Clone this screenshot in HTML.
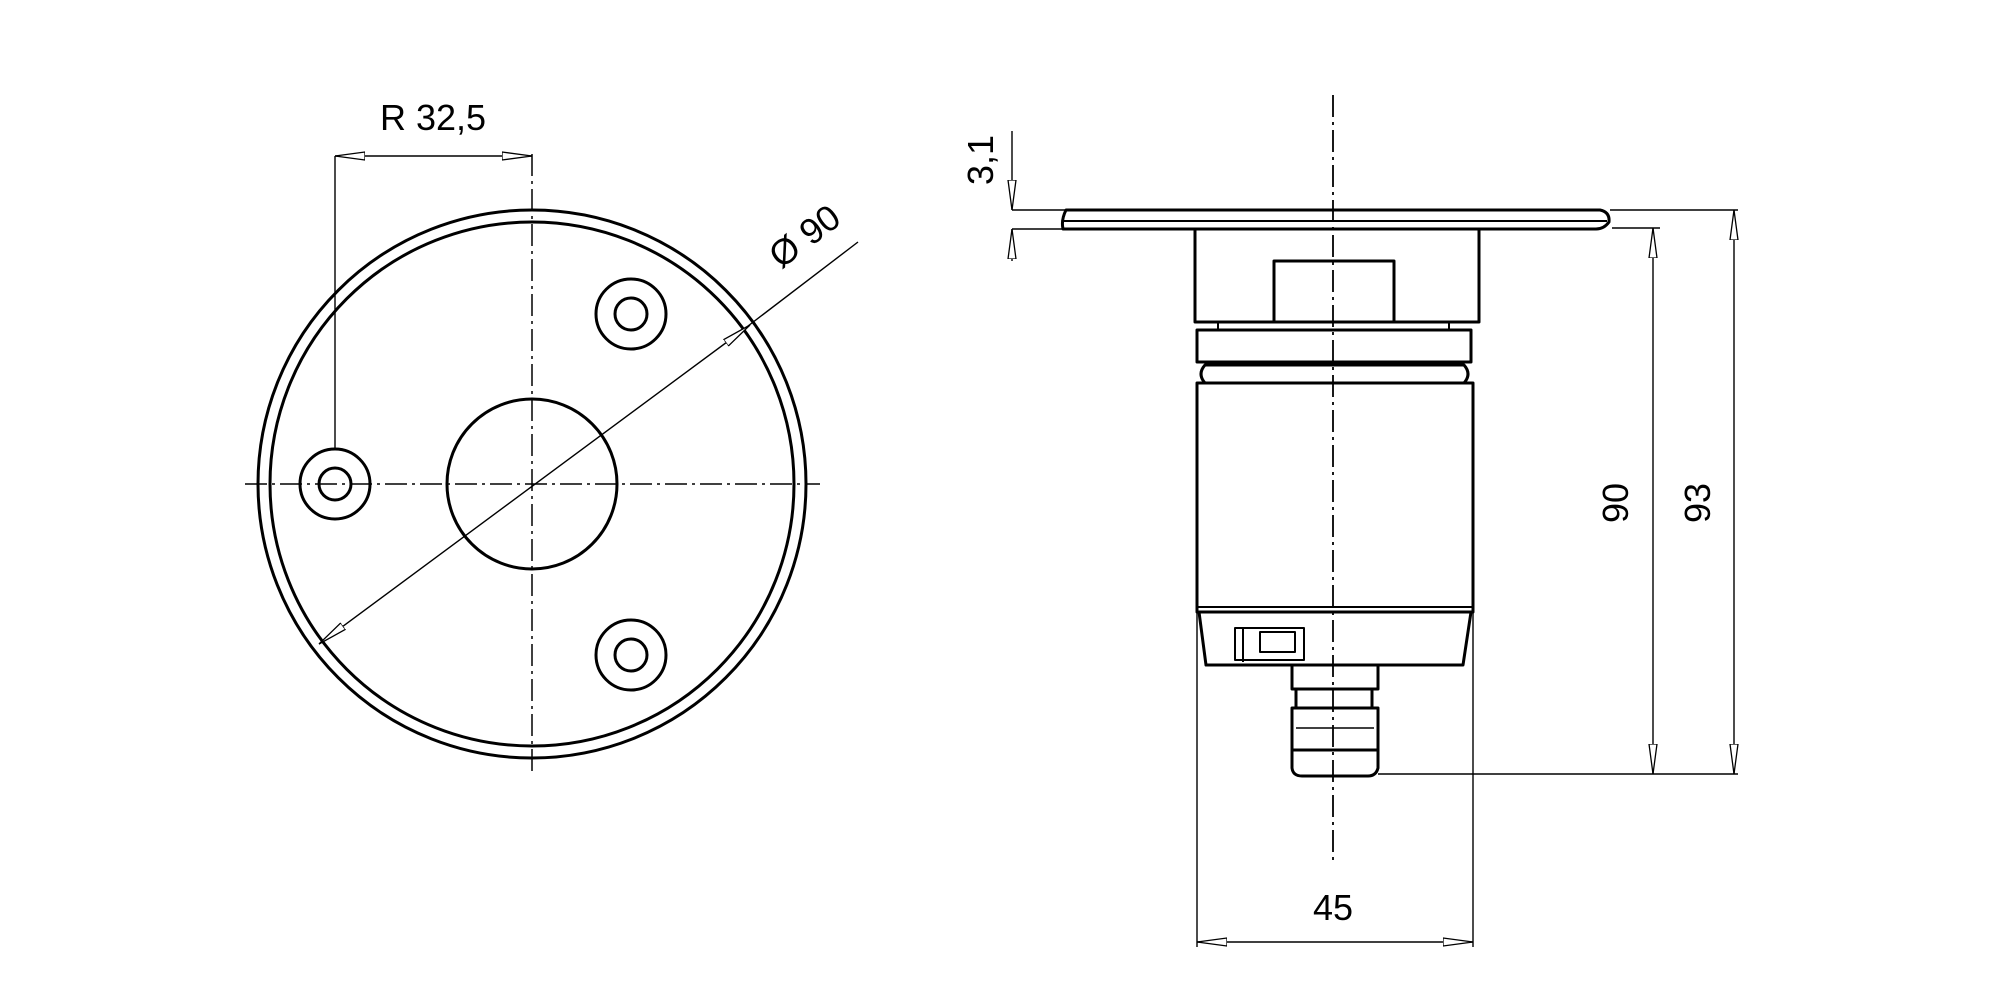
<!DOCTYPE html>
<html><head><meta charset="utf-8"><style>html,body{margin:0;padding:0;background:#fff}svg{display:block}text{font-family:"Liberation Sans",sans-serif;fill:#000}</style></head><body>
<svg width="2000" height="1000" viewBox="0 0 2000 1000" xmlns="http://www.w3.org/2000/svg">
<defs>
<marker id="a" viewBox="0 0 30 10" refX="30" refY="5" markerWidth="30" markerHeight="10" markerUnits="userSpaceOnUse" orient="auto-start-reverse"><path d="M0,1 L30,5 L0,9 Z" fill="#fff" stroke="#000" stroke-width="1.3"/></marker>
</defs>
<g fill="none" stroke="#000">
<!-- left view -->
<g stroke-width="3">
<circle cx="532" cy="484" r="274"/>
<circle cx="532" cy="484" r="262"/>
<circle cx="532" cy="484" r="85"/>
<circle cx="335" cy="484" r="35"/><circle cx="335" cy="484" r="16"/>
<circle cx="631" cy="314" r="35"/><circle cx="631" cy="314" r="16"/>
<circle cx="631" cy="655" r="35"/><circle cx="631" cy="655" r="16"/>
</g>
<g stroke-width="1.5" stroke-dasharray="22,5,3,5">
<line x1="245" y1="484" x2="820" y2="484"/>
<line x1="532" y1="154" x2="532" y2="772"/>
</g>
<g stroke-width="1.4">
<line x1="335" y1="156" x2="335" y2="449"/>
<line x1="335" y1="156" x2="532" y2="156" marker-start="url(#a)" marker-end="url(#a)"/>
<line x1="319" y1="644" x2="750" y2="325" marker-start="url(#a)" marker-end="url(#a)"/>
<line x1="748" y1="326" x2="858" y2="242"/>
</g>
<!-- right view -->
<g stroke-width="3" stroke-linejoin="round">
<path d="M1066,210 L1600,210 Q1610,212 1609,222 Q1604,229 1596,229 L1063,229 Q1061,220 1066,210 Z"/>
<line x1="1063" y1="221" x2="1607" y2="221" stroke-width="2"/>
<rect x="1195" y="229" width="284" height="93"/>
<rect x="1274" y="261" width="120" height="61"/>
<line x1="1218" y1="322" x2="1218" y2="330" stroke-width="2"/>
<line x1="1449" y1="322" x2="1449" y2="330" stroke-width="2"/>
<rect x="1197" y="330" width="274" height="32"/>
<path d="M1205,365 L1464,365 Q1472,374 1464,383 L1205,383 Q1197,374 1205,365 Z"/>
<rect x="1197" y="383" width="276" height="229"/>
<line x1="1197" y1="607" x2="1473" y2="607" stroke-width="2"/>
<path d="M1199,612 L1471,612 L1463,665 L1206,665 Z"/>
<rect x="1235" y="628" width="69" height="32" stroke-width="2"/>
<rect x="1260" y="632" width="35" height="20" stroke-width="2"/>
<line x1="1243" y1="628" x2="1243" y2="662" stroke-width="2"/>
<rect x="1292" y="665" width="86" height="24"/>
<rect x="1296" y="689" width="76" height="19"/>
<rect x="1292" y="708" width="86" height="42"/>
<line x1="1296" y1="728" x2="1374" y2="728" stroke-width="1.5"/>
<path d="M1292,750 L1378,750 L1378,768 Q1376,776 1368,776 L1302,776 Q1293,776 1292,768 Z"/>
</g>
<line x1="1333" y1="95" x2="1333" y2="865" stroke-width="1.8" stroke-dasharray="22,5,3,5"/>
<g stroke-width="1.4">
<line x1="1197" y1="600" x2="1197" y2="947"/>
<line x1="1473" y1="600" x2="1473" y2="947"/>
<line x1="1197" y1="942" x2="1473" y2="942" marker-start="url(#a)" marker-end="url(#a)"/>
<line x1="1612" y1="228" x2="1660" y2="228"/>
<line x1="1378" y1="774" x2="1738" y2="774"/>
<line x1="1610" y1="210" x2="1738" y2="210"/>
<line x1="1653" y1="228" x2="1653" y2="774" marker-start="url(#a)" marker-end="url(#a)"/>
<line x1="1734" y1="210" x2="1734" y2="774" marker-start="url(#a)" marker-end="url(#a)"/>
<line x1="1012" y1="210" x2="1066" y2="210"/>
<line x1="1012" y1="229" x2="1063" y2="229"/>
<line x1="1012" y1="131" x2="1012" y2="210" marker-end="url(#a)"/>
<line x1="1012" y1="261" x2="1012" y2="229" marker-end="url(#a)"/>
</g>
</g>
<g font-size="36">
<text x="433" y="130" text-anchor="middle">R 32,5</text>
<text x="0" y="0" text-anchor="middle" transform="translate(812,246) rotate(-37)">Ø 90</text>
<text x="0" y="0" text-anchor="middle" transform="translate(993,160) rotate(-90)">3,1</text>
<text x="1333" y="920" text-anchor="middle">45</text>
<text x="0" y="0" text-anchor="middle" transform="translate(1628,503) rotate(-90)">90</text>
<text x="0" y="0" text-anchor="middle" transform="translate(1710,503) rotate(-90)">93</text>
</g>
</svg>
</body></html>
